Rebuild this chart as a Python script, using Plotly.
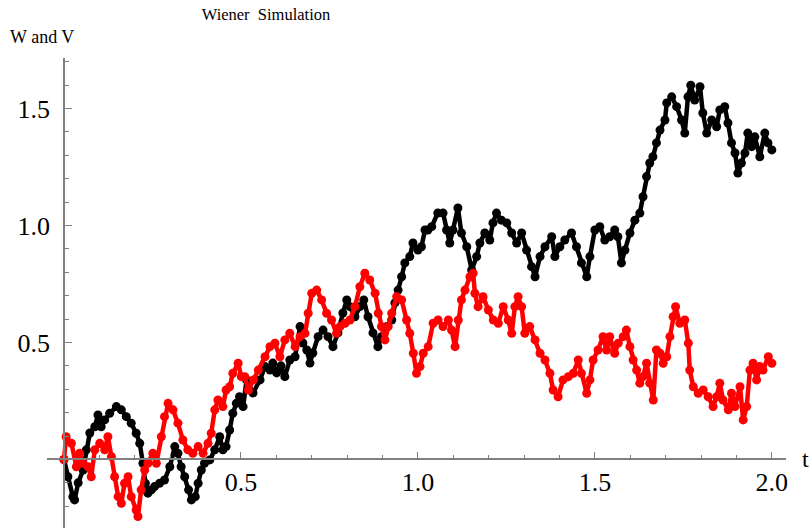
import plotly.graph_objects as go

# ---- data ----
t_w = [0.000, 0.011, 0.025, 0.030, 0.040, 0.054, 0.063, 0.073, 0.087, 0.096, 0.105, 0.115, 0.129, 0.148, 0.162,
       0.176, 0.190, 0.204, 0.214, 0.223, 0.230, 0.237, 0.247, 0.256, 0.270, 0.284, 0.299, 0.313, 0.322, 0.331,
       0.341, 0.352, 0.360, 0.371, 0.379, 0.388, 0.397, 0.412, 0.426, 0.440, 0.449, 0.458, 0.468, 0.477, 0.487,
       0.496, 0.506, 0.516, 0.534, 0.554, 0.568, 0.582, 0.590, 0.601, 0.613, 0.624, 0.638, 0.653, 0.667, 0.675,
       0.686, 0.695, 0.703, 0.718, 0.732, 0.746, 0.760, 0.774, 0.788, 0.799, 0.808, 0.822, 0.836, 0.847, 0.859,
       0.873, 0.887, 0.897, 0.912, 0.926, 0.935, 0.944, 0.954, 0.963, 0.977, 0.986, 1.000, 1.010, 1.020, 1.028,
       1.039, 1.056, 1.071, 1.081, 1.090, 1.099, 1.113, 1.123, 1.138, 1.152, 1.166, 1.175, 1.189, 1.203, 1.212,
       1.222, 1.236, 1.251, 1.265, 1.279, 1.293, 1.307, 1.321, 1.331, 1.345, 1.359, 1.378, 1.387, 1.401, 1.415,
       1.434, 1.448, 1.462, 1.477, 1.486, 1.500, 1.514, 1.528, 1.542, 1.556, 1.565, 1.575, 1.585, 1.599, 1.613,
       1.627, 1.636, 1.646, 1.655, 1.664, 1.674, 1.684, 1.698, 1.703, 1.717, 1.731, 1.745, 1.754, 1.763, 1.771,
       1.782, 1.797, 1.805, 1.816, 1.830, 1.844, 1.853, 1.867, 1.876, 1.886, 1.896, 1.904, 1.914, 1.924, 1.932,
       1.943, 1.952, 1.966, 1.980, 1.989, 2.000]
w_vals = [0.000, -0.074, -0.159, -0.173, -0.100, -0.045, 0.041, 0.113, 0.140, 0.190, 0.140, 0.169, 0.197, 0.226, 0.212,
          0.183, 0.155, 0.112, 0.069, -0.016, -0.102, -0.144, -0.130, -0.116, -0.102, -0.088, -0.031, 0.055, 0.026, -0.031,
          -0.074, -0.130, -0.173, -0.159, -0.102, -0.045, -0.016, -0.002, 0.041, 0.097, 0.041, 0.055, 0.126, 0.197, 0.240,
          0.268, 0.226, 0.340, 0.284, 0.340, 0.397, 0.382, 0.412, 0.370, 0.400, 0.354, 0.425, 0.439, 0.568, 0.498,
          0.468, 0.412, 0.455, 0.525, 0.553, 0.525, 0.482, 0.541, 0.626, 0.682, 0.653, 0.610, 0.653, 0.682, 0.610,
          0.541, 0.482, 0.525, 0.568, 0.596, 0.669, 0.724, 0.781, 0.840, 0.867, 0.925, 0.895, 0.909, 0.981, 0.981,
          0.995, 1.053, 1.053, 0.981, 0.925, 0.981, 1.075, 0.968, 0.909, 0.810, 0.867, 0.925, 0.968, 0.938, 1.011,
          1.053, 1.023, 1.011, 0.968, 0.925, 0.968, 0.895, 0.824, 0.781, 0.867, 0.909, 0.952, 0.867, 0.909, 0.938,
          0.968, 0.909, 0.840, 0.781, 0.867, 0.981, 0.995, 0.938, 0.952, 0.981, 0.952, 0.840, 0.895, 0.968, 1.023,
          1.053, 1.123, 1.209, 1.267, 1.294, 1.353, 1.408, 1.451, 1.524, 1.550, 1.508, 1.451, 1.395, 1.550, 1.600,
          1.536, 1.593, 1.481, 1.395, 1.451, 1.422, 1.494, 1.508, 1.438, 1.353, 1.310, 1.224, 1.267, 1.310, 1.395,
          1.337, 1.379, 1.294, 1.395, 1.353, 1.323]

t_v = [0.000, 0.006, 0.021, 0.035, 0.044, 0.054, 0.068, 0.077, 0.087, 0.101, 0.115, 0.124, 0.134, 0.143, 0.153,
       0.162, 0.171, 0.181, 0.190, 0.204, 0.209, 0.218, 0.228, 0.237, 0.251, 0.261, 0.275, 0.284, 0.294, 0.308,
       0.322, 0.336, 0.350, 0.364, 0.379, 0.393, 0.407, 0.416, 0.426, 0.435, 0.449, 0.458, 0.468, 0.477, 0.492,
       0.501, 0.511, 0.521, 0.535, 0.549, 0.568, 0.582, 0.596, 0.610, 0.624, 0.638, 0.653, 0.667, 0.681, 0.690,
       0.700, 0.714, 0.728, 0.742, 0.756, 0.770, 0.780, 0.794, 0.808, 0.822, 0.836, 0.850, 0.864, 0.879, 0.888,
       0.897, 0.907, 0.916, 0.926, 0.940, 0.954, 0.968, 0.977, 0.987, 0.996, 1.006, 1.015, 1.029, 1.043, 1.057,
       1.071, 1.086, 1.095, 1.105, 1.114, 1.123, 1.133, 1.147, 1.156, 1.161, 1.170, 1.184, 1.199, 1.213, 1.227,
       1.241, 1.255, 1.265, 1.274, 1.283, 1.293, 1.302, 1.316, 1.331, 1.345, 1.359, 1.373, 1.382, 1.396, 1.410,
       1.425, 1.439, 1.453, 1.462, 1.477, 1.486, 1.495, 1.509, 1.523, 1.533, 1.542, 1.556, 1.566, 1.580, 1.589,
       1.599, 1.608, 1.618, 1.627, 1.636, 1.646, 1.655, 1.665, 1.674, 1.684, 1.693, 1.703, 1.712, 1.721, 1.728,
       1.740, 1.754, 1.764, 1.768, 1.778, 1.792, 1.806, 1.820, 1.834, 1.844, 1.853, 1.862, 1.877, 1.886, 1.896,
       1.910, 1.919, 1.929, 1.938, 1.947, 1.957, 1.966, 1.975, 1.990, 2.000]
v_vals = [0.000, 0.097, 0.069, -0.031, 0.026, -0.016, -0.031, -0.074, 0.041, 0.069, 0.041, 0.097, 0.012, -0.074, -0.159,
          -0.187, -0.102, -0.074, -0.159, -0.216, -0.244, -0.130, -0.045, -0.016, 0.026, -0.016, 0.097, 0.183, 0.240, 0.212,
          0.155, 0.083, 0.041, 0.026, 0.055, 0.026, 0.069, 0.112, 0.212, 0.254, 0.226, 0.297, 0.311, 0.368, 0.411,
          0.354, 0.354, 0.297, 0.340, 0.382, 0.439, 0.482, 0.497, 0.439, 0.511, 0.539, 0.482, 0.525, 0.539, 0.625,
          0.710, 0.724, 0.682, 0.625, 0.596, 0.539, 0.568, 0.582, 0.596, 0.653, 0.738, 0.796, 0.767, 0.710, 0.625,
          0.568, 0.511, 0.568, 0.625, 0.696, 0.682, 0.596, 0.539, 0.454, 0.368, 0.397, 0.454, 0.482, 0.582, 0.596,
          0.568, 0.596, 0.553, 0.482, 0.596, 0.682, 0.724, 0.781, 0.796, 0.710, 0.653, 0.696, 0.639, 0.596, 0.582,
          0.653, 0.596, 0.539, 0.653, 0.696, 0.653, 0.539, 0.568, 0.511, 0.454, 0.425, 0.368, 0.297, 0.268, 0.340,
          0.354, 0.368, 0.425, 0.368, 0.283, 0.340, 0.425, 0.468, 0.525, 0.468, 0.525, 0.454, 0.497, 0.525, 0.553,
          0.482, 0.425, 0.382, 0.326, 0.354, 0.411, 0.326, 0.254, 0.468, 0.454, 0.411, 0.439, 0.525, 0.610, 0.653,
          0.582, 0.596, 0.497, 0.382, 0.311, 0.283, 0.297, 0.268, 0.226, 0.268, 0.326, 0.254, 0.212, 0.283, 0.226,
          0.311, 0.169, 0.226, 0.382, 0.411, 0.340, 0.397, 0.382, 0.439, 0.411]

x_ticks = [0.5, 1.0, 1.5, 2.0]
x_tick_text = ["0.5", "1.0", "1.5", "2.0"]
y_ticks = [0.5, 1.0, 1.5]
y_tick_text = ["0.5", "1.0", "1.5"]

title_text = "Wiener\u00a0 Simulation"
y_label = "W and V"
x_label = "t"

# ---- figure ----
X_RANGE = [-0.048, 2.04]
Y_RANGE = [-0.293, 1.716]
FONT = "Liberation Serif, Times New Roman, serif"

fig = go.Figure()
fig.add_trace(go.Scatter(x=t_w, y=w_vals, mode="lines+markers",
                         line=dict(color="black", width=4.5),
                         marker=dict(color="black", size=9), hoverinfo="skip", showlegend=False))
fig.add_trace(go.Scatter(x=t_v, y=v_vals, mode="lines+markers",
                         line=dict(color="#ff0000", width=4.5),
                         marker=dict(color="#ff0000", size=9), hoverinfo="skip", showlegend=False))

xpos = (0 - Y_RANGE[0]) / (Y_RANGE[1] - Y_RANGE[0])
ypos = (0 - X_RANGE[0]) / (X_RANGE[1] - X_RANGE[0])

axis_common = dict(showgrid=False, zeroline=False, showline=True, linecolor="#808080", linewidth=1.5,
                   ticks="inside", ticklen=7, tickwidth=1, tickcolor="#808080",
                   tickfont=dict(family=FONT, size=26, color="black"))

fig.update_layout(
    width=811, height=528,
    margin=dict(l=47, r=25, t=58, b=0),
    paper_bgcolor="white", plot_bgcolor="white",
    title=dict(text=title_text, x=266 / 811, xanchor="center", xref="container",
               y=1 - 14.5 / 528, yanchor="middle", yref="container",
               font=dict(family=FONT, size=16.5, color="black")),
    xaxis=dict(range=X_RANGE, tickvals=x_ticks, ticktext=x_tick_text, anchor="free", position=xpos,
               minor=dict(dtick=0.1, tick0=0, ticks="inside", ticklen=4, tickcolor="#808080"),
               ticklabelstandoff=0, **axis_common),
    yaxis=dict(range=Y_RANGE, tickvals=y_ticks, ticktext=y_tick_text, anchor="free", position=ypos,
               minor=dict(dtick=0.1, tick0=0, ticks="inside", ticklen=4, tickcolor="#808080"),
               ticklabelstandoff=8, **axis_common),
    annotations=[
        dict(text=y_label, xref="paper", yref="paper", x=(8 - 47) / 739, y=1 + (58 - 37) / 470,
             xanchor="left", yanchor="middle", showarrow=False,
             font=dict(family=FONT, size=18, color="black")),
        dict(text=x_label, xref="paper", yref="paper", x=(800 - 47) / 739, y=xpos,
             xanchor="left", yanchor="middle", showarrow=False,
             font=dict(family=FONT, size=24, color="black")),
    ],
)

fig.write_html("out.html")
